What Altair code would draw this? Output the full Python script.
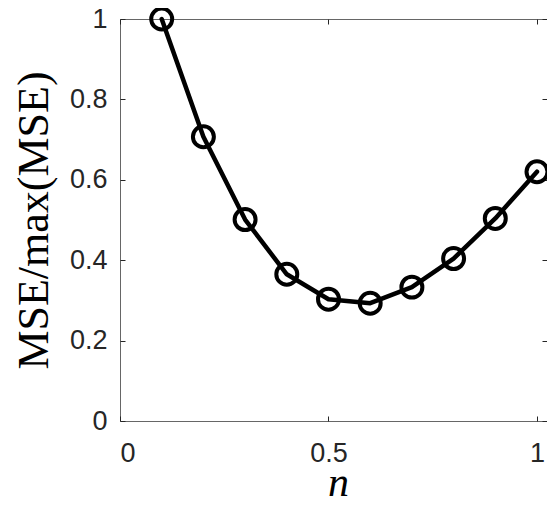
import altair as alt
import pandas as pd

n_vals = [0.1, 0.2, 0.3, 0.4, 0.5, 0.6, 0.7, 0.8, 0.9, 1.0]
mse_ratio = [1.0, 0.707, 0.501, 0.365, 0.303, 0.293, 0.333, 0.404, 0.504, 0.620]
x_ticks = [0, 0.5, 1]
y_ticks = [0, 0.2, 0.4, 0.6, 0.8, 1]

df = pd.DataFrame({"n": n_vals, "mse": mse_ratio})

xs = alt.Scale(domain=[0, 1.024], nice=False, zero=False)
ys = alt.Scale(domain=[0, 1], nice=False)

label_font = "Liberation Sans"
title_font = "Liberation Serif"
tick_color = "#262626"

base = alt.Chart(df)

line = base.mark_line(color="black", strokeWidth=4.5, strokeJoin="round", strokeCap="round").encode(
    x=alt.X(
        "n:Q",
        scale=xs,
        axis=alt.Axis(
            orient="bottom", values=x_ticks, format="~g", title="n",
            offset=-5, tickSize=5, tickColor=tick_color, domain=False, grid=False,
            labelPadding=19, labelFont=label_font, labelFontSize=27, labelColor=tick_color,
            titleFont=title_font, titleFontStyle="italic", titleFontSize=42,
            titleFontWeight="normal", titleColor="black", titlePadding=29,
            titleBaseline="alphabetic", titleX=218,
        ),
    ),
    y=alt.Y(
        "mse:Q",
        scale=ys,
        axis=alt.Axis(
            orient="left", values=y_ticks, format="~g", title="MSE/max(MSE)",
            offset=-5, tickSize=5, tickColor=tick_color, domain=False, grid=False,
            labelPadding=13, labelFont=label_font, labelFontSize=27, labelColor=tick_color,
            titleFont=title_font, titleFontSize=44, titleFontWeight="normal",
            titleColor="black", titlePadding=13,
        ),
    ),
)

points = base.mark_point(
    shape="circle", filled=False, size=440, strokeWidth=4, color="black", opacity=1
).encode(
    x=alt.X(
        "n:Q",
        scale=xs,
        axis=alt.Axis(
            orient="top", values=x_ticks, labels=False, title=None,
            offset=-5, tickSize=5, tickColor=tick_color, domain=False, grid=False,
        ),
    ),
    y=alt.Y(
        "mse:Q",
        scale=ys,
        axis=alt.Axis(
            orient="right", values=y_ticks, labels=False, title=None,
            offset=-5, tickSize=5, tickColor=tick_color, domain=False, grid=False,
        ),
    ),
)

chart = (
    alt.layer(line, points)
    .properties(
        width=427,
        height=402,
        padding={"left": 112, "top": 11, "right": 0, "bottom": 85},
        autosize=alt.AutoSizeParams(type="none"),
        background="white",
    )
    .configure_view(stroke="#666666", strokeWidth=1)
)

chart.save("out.html", embed_options={"renderer": "svg", "actions": False})
